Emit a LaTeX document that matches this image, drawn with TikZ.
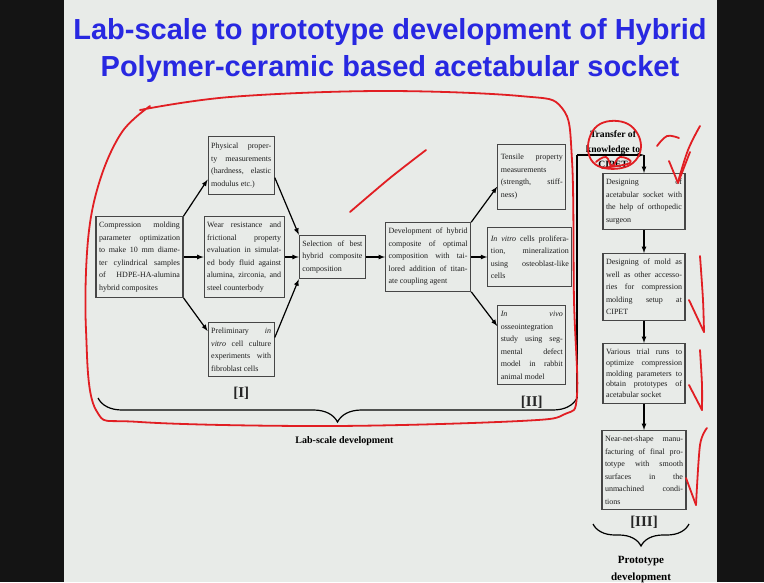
\documentclass[tikz,border=0pt]{standalone}
\usepackage{fontspec}
\setmainfont{Liberation Serif}
\newfontfamily\titlefont{Liberation Sans}
\usetikzlibrary{arrows,positioning,decorations.pathreplacing}
\definecolor{slidebg}{RGB}{232,235,232}
\definecolor{titleblue}{RGB}{40,40,225}
\definecolor{boxline}{RGB}{70,70,70}
\definecolor{boxtext}{RGB}{30,30,30}
\definecolor{pen}{RGB}{225,30,35}
\hbadness=10000
\tikzstyle{stagebox}=[
	rectangle,
	draw=boxline,
	line width=1.2pt,
	text=boxtext,
	align=justify,
	inner xsep=3pt,
	inner ysep=5.5pt,
	font=\fontsize{8}{12.5}\selectfont
]
\tikzstyle{flow}=[
	->,
	>=latex,
	line width=1.2pt
]
\tikzstyle{tag}=[
	font=\fontsize{15}{15}\selectfont\bfseries,
	text=black!85
]
\tikzstyle{underbrace}=[
	decorate,
	decoration={brace,mirror,amplitude=24pt},
	line width=1.2pt
]
\tikzstyle{ink}=[
	draw=pen,
	line width=1.8pt,
	line cap=round,
	line join=round
]

\begin{document}
\begin{tikzpicture}[x=1pt,y=-1pt]
\fill[slidebg] (0,0) rectangle (764,582);
\fill[black!92] (0,0) rectangle (64,582);
\fill[black!92] (717,0) rectangle (764,582);
\useasboundingbox (0,0) rectangle (764,582);

\node [font=\titlefont\fontsize{29}{37}\selectfont\bfseries, text=titleblue, align=center] (Title) at (390,50)
	{Lab-scale to prototype development of Hybrid\\Polymer-ceramic based acetabular socket};

\node [stagebox, text width=81pt] (Compression) at (139.5,257)
	{Compression molding\linebreak parameter optimization\linebreak to make 10 mm diame-\linebreak ter cylindrical samples\linebreak of HDPE-HA-alumina\linebreak hybrid composites};
\node [stagebox, text width=74pt] (Wear) [right=20pt of Compression]
	{Wear resistance and\linebreak frictional property\linebreak evaluation in simulat-\linebreak ed body fluid against\linebreak alumina, zirconia, and\linebreak steel counterbody};
\node [stagebox, text width=60pt, minimum height=58pt] (Physical) [above=21pt of Wear, xshift=-3pt]
	{Physical proper-\linebreak ty measurements\linebreak (hardness, elastic\linebreak modulus etc.)};
\node [stagebox, text width=60pt] (Preliminary) [below=24pt of Wear, xshift=-3pt]
	{Preliminary \textit{in}\linebreak \textit{vitro} cell culture\linebreak experiments with\linebreak fibroblast cells};
\node [stagebox, text width=60pt] (Selection) [right=14pt of Wear]
	{Selection of best\linebreak hybrid composite\linebreak composition};
\node [stagebox, text width=79pt] (Development) [right=19pt of Selection]
	{Development of hybrid\linebreak composite of optimal\linebreak composition with tai-\linebreak lored addition of titan-\linebreak ate coupling agent};
\node [stagebox, text width=78pt, minimum height=59pt] (InVitro) [right=16pt of Development]
	{\textit{In vitro} cells prolifera-\linebreak tion, mineralization\linebreak using osteoblast-like\linebreak cells};
\node [stagebox, text width=62pt, minimum height=65pt] (Tensile) [above=17pt of InVitro, xshift=2pt]
	{Tensile property\linebreak measurements\linebreak (strength, stiff-\linebreak ness)};
\node [stagebox, text width=62pt] (InVivo) [below=18pt of InVitro, xshift=2pt]
	{\textit{In} \textit{vivo}\linebreak osseointegration\linebreak study using seg-\linebreak mental defect\linebreak model in rabbit\linebreak animal model};

\node [stagebox, text width=76pt] (Designing) at (644,201.5)
	{Designing of\linebreak acetabular socket with\linebreak the help of orthopedic\linebreak surgeon};
\node [stagebox, text width=76pt] (Mold) [below=23pt of Designing]
	{Designing of mold as\linebreak well as other accesso-\linebreak ries for compression\linebreak molding setup at\linebreak CIPET};
\node [stagebox, text width=76pt, font=\fontsize{8}{10.8}\selectfont] (Trial) [below=22pt of Mold]
	{Various trial runs to\linebreak optimize compression\linebreak molding parameters to\linebreak obtain prototypes of\linebreak acetabular socket};
\node [stagebox, text width=78pt] (NearNet) [below=26pt of Trial]
	{Near-net-shape manu-\linebreak facturing of final pro-\linebreak totype with smooth\linebreak surfaces in the\linebreak unmachined condi-\linebreak tions};

\node [tag] (TagI) [below=6pt of Preliminary] {[I]};
\node [tag] (TagII) [below=7pt of InVivo] {[II]};
\node [tag] (TagIII) [below=2pt of NearNet] {[III]};

\draw [flow] (Compression.north east) -- (Physical.203);
\draw [flow] (Compression.east) -- (Wear.west);
\draw [flow] (Compression.south east) -- (Preliminary.151);
\draw [flow] (Physical.340) -- (Selection.north west);
\draw [flow] (Wear.east) -- (Selection.west);
\draw [flow] (Preliminary.20) -- (Selection.south west);
\draw [flow] (Selection.east) -- (Development.west);
\draw [flow] (Development.north east) -- (Tensile.196);
\draw [flow] (Development.east) -- (InVitro.west);
\draw [flow] (Development.south east) -- (InVivo.151);
\draw [flow] (Designing.south) -- (Mold.north);
\draw [flow] (Mold.south) -- (Trial.north);
\draw [flow] (Trial.south) -- (NearNet.north);

\coordinate (LabLeft) at (98,398);
\coordinate (LabRight) at (577,398);
\coordinate (Handover) at (577,155);
\coordinate (Corner) at (Designing.north |- Handover);
\coordinate (ProtoLeft) at (593,524);
\coordinate (ProtoRight) at (689,524);

\draw [underbrace] (LabLeft) -- node [below=35pt, xshift=7pt, font=\fontsize{10}{12}\selectfont\bfseries] (LabText) {Lab-scale development} (LabRight);
\draw [underbrace, decoration={amplitude=22pt}] (ProtoLeft) -- node [below=28pt, align=center, font=\fontsize{11}{17}\selectfont\bfseries] (ProtoText) {Prototype\\development} (ProtoRight);
\draw [line width=1.2pt] (LabRight) -- (Handover);
\draw [flow] (Handover) -- (Corner);
\draw [flow] (Corner) -- (Designing.north);
\node [font=\fontsize{9.6}{15}\selectfont\bfseries, align=center] (Transfer) at (613,149) {Transfer of\\knowledge to\\CIPET};

\draw [ink] plot [smooth, tension=0.6] coordinates {(140,110) (230,97) (380,91) (520,96) (562,108) (572,160) (574,300) (577,395) (565,414) (520,421) (330,426) (140,422) (96,410) (86,330) (88,240) (100,180) (122,132) (150,106)};
\draw [ink] plot [smooth, tension=0.5] coordinates {(350,212) (390,178) (426,150)};
\draw [ink] plot [smooth cycle, tension=0.7] coordinates {(600,124) (588,146) (598,166) (628,166) (641,146) (628,124)};
\draw [ink] plot [smooth, tension=0.8] coordinates {(596,162) (606,157) (612,166) (620,157) (630,163) (602,168)};
\draw [ink] plot [smooth, tension=0.6] coordinates {(657,146) (667,136) (679,138)};
\draw [ink] plot [smooth, tension=0.6] coordinates {(700,126) (688,150) (678,182)};
\draw [ink] (669,161) -- (678,183) -- (690,152);
\draw [ink] plot [smooth, tension=0.5] coordinates {(700,256) (703,300) (704,332)};
\draw [ink] (689,300) -- (704,332);
\draw [ink] plot [smooth, tension=0.5] coordinates {(700,350) (702,385) (702,410)};
\draw [ink] (689,385) -- (702,410);
\draw [ink] plot [smooth, tension=0.5] coordinates {(707,428) (700,445) (696,505)};
\draw [ink] (686,478) -- (696,505);
\end{tikzpicture}
\end{document}
